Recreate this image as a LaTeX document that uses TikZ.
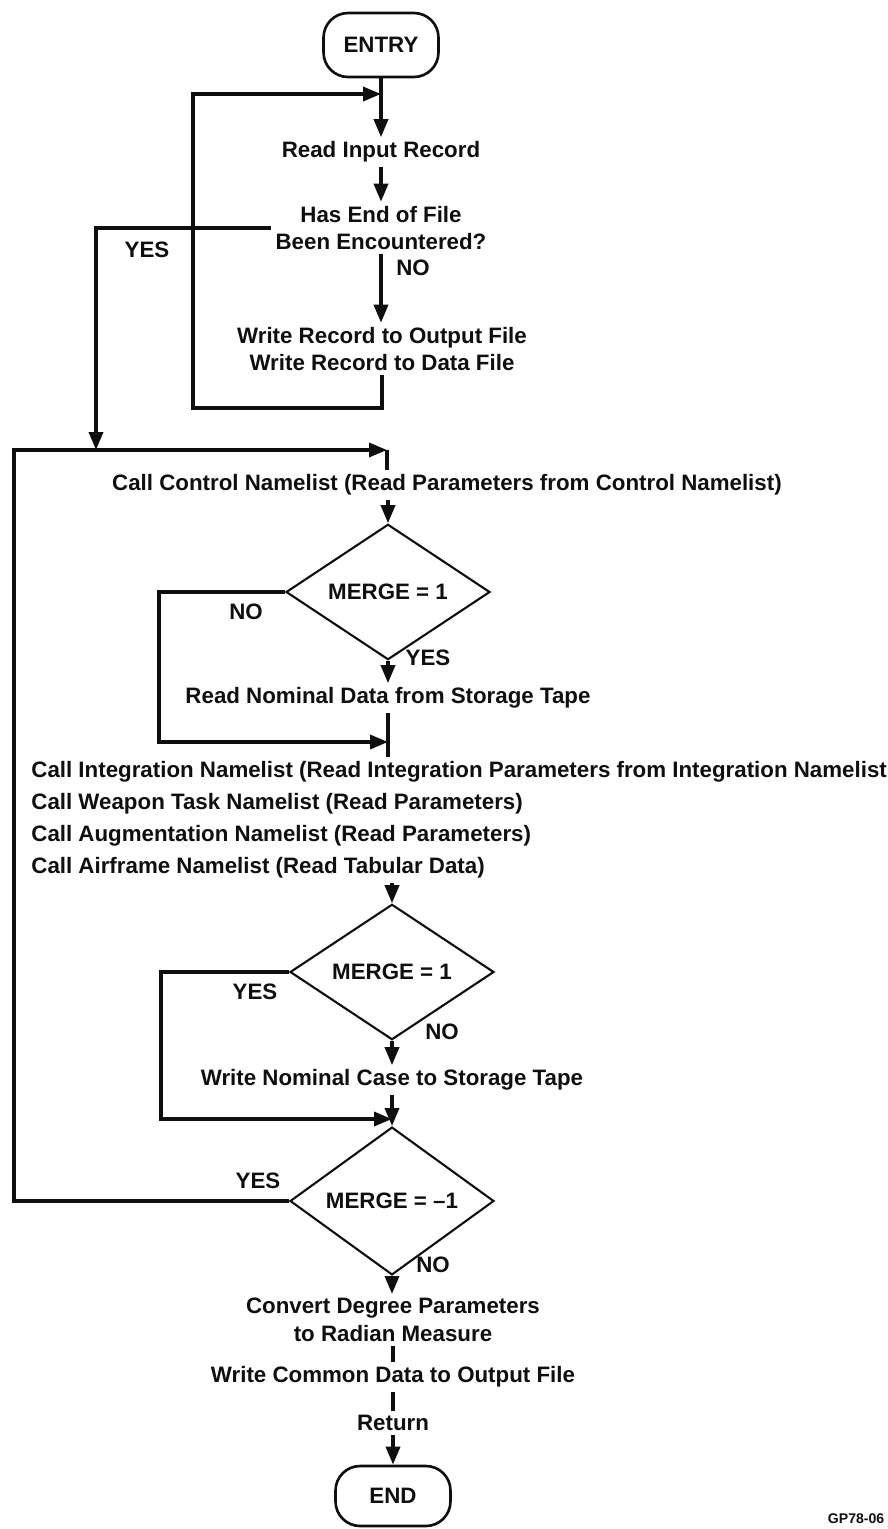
\documentclass[tikz,border=0pt]{standalone}
\usepackage{fontspec}
\setmainfont{Liberation Sans}
\usetikzlibrary{arrows.meta,positioning,calc,shapes.geometric}
\definecolor{ink}{RGB}{15,15,15}
\tikzset{
  every picture/.style={color=ink, line width=2pt, font=\fontsize{12.7}{15.6}\selectfont\bfseries},
  term/.style={draw=ink, line width=1.5pt, rounded corners=14pt, minimum width=2.3cm, minimum height=1.2cm, inner sep=0pt},
  dec/.style={diamond, draw=ink, line width=1.2pt, minimum width=4.08cm, minimum height=2.1cm, inner sep=0pt},
  txt/.style={inner sep=1.5pt, align=center},
  flow/.style={-{Triangle[length=3.6mm,width=2.8mm]}, line width=2pt},
  wire/.style={line width=2pt},
  lbl/.style={inner sep=0pt},
  tag/.style={font=\fontsize{8}{9}\selectfont\bfseries, inner sep=0pt},
}

\begin{document}
\begin{tikzpicture}[x=0.02cm, y=-0.02cm]
  \useasboundingbox (0,0) rectangle (888,1529);
  % read / copy loop
  \node[term, minimum height=1.28cm] (entry) at (381,45) {ENTRY};
  \node[txt] (rd) at (381,152) {Read Input Record};
  \node[txt] (eof) at (381,228) {Has End of File\\Been Encountered?};
  \node[txt] (wr) at (382,349) {Write Record to Output File\\Write Record to Data File};
  \node[lbl] (no1) at (413,268) {NO};
  \node[lbl] (yes1) at (147,250) {YES};
  \coordinate (t1) at (381,94);
  \coordinate (c2) at (193,408);
  \coordinate (j1) at (96,450);
  \draw[flow] (entry) -- (rd);
  \draw[flow] (rd) -- (eof);
  \draw[flow] (eof.south) -- (eof.south |- wr.north);
  \draw[flow] (wr.south) |- (c2) |- (t1);
  \draw[flow] (eof.west) -| (j1);
  % namelists
  \coordinate (c4) at (14,450);
  \coordinate (j0) at (387,450);
  \node[txt] (ctl) at (447,485) {Call Control Namelist (Read Parameters from Control Namelist)};
  \node[dec] (d1) at (388,592) {MERGE = 1};
  \node[lbl] (no2) at (246,612) {NO};
  \node[lbl] (yes2) at (428,658) {YES};
  \node[txt] (nom) at (388,698) {Read Nominal Data from Storage Tape};
  \coordinate (c5) at (159,742);
  \coordinate (j2) at (388,742);
  \node[txt, align=left, anchor=west, font=\fontsize{12.7}{18.2}\selectfont\bfseries] (calls) at (27,820)
    {Call Integration Namelist (Read Integration Parameters from Integration Namelist\\
     Call Weapon Task Namelist (Read Parameters)\\
     Call Augmentation Namelist (Read Parameters)\\
     Call Airframe Namelist (Read Tabular Data)};
  \draw[wire] (j0) -- (j0 |- ctl.north);
  \draw[flow] (ctl.south -| d1.north) -- (d1.north);
  \draw[flow] (d1.south) -- (nom);
  \draw[flow] (d1.west) -| (c5) -- (j2);
  \draw[wire] (nom.south) -- (nom.south |- calls.north);
  % storage tape
  \node[dec] (d2) at (392,972) {MERGE = 1};
  \node[lbl] (yes3) at (255,992) {YES};
  \node[lbl] (no3) at (442,1032) {NO};
  \node[txt] (wn) at (392,1080) {Write Nominal Case to Storage Tape};
  \coordinate (c6) at (161,1119);
  \coordinate (j3) at (392,1119);
  \node[dec] (d3) at (392,1201) {MERGE = –1};
  \node[lbl] (yes4) at (258,1181) {YES};
  \node[lbl] (no4) at (433,1265) {NO};
  \draw[flow] (calls.south -| d2.north) -- (d2.north);
  \draw[flow] (d2.south) -- (wn);
  \draw[flow] (d2.west) -| (c6) -- (j3);
  \draw[flow] (wn) -- (d3.north);
  \draw[flow] (d3.west) -| (c4) -- (j0);
  % wrap up
  \node[txt] (cv) at (393,1320) {Convert Degree Parameters\\to Radian Measure};
  \node[txt] (wc) at (393,1377) {Write Common Data to Output File};
  \node[txt] (ret) at (393,1423) {Return};
  \node[term] (end) at (393,1496) {END};
  \draw[flow] (d3.south) -- (d3.south |- cv.north);
  \draw[wire] (cv) -- (wc);
  \draw[wire] (wc) -- (ret);
  \draw[flow] (ret) -- (end);
  \node[tag, anchor=east] (gp) at (886,1519) {GP78-06};
\end{tikzpicture}
\end{document}
